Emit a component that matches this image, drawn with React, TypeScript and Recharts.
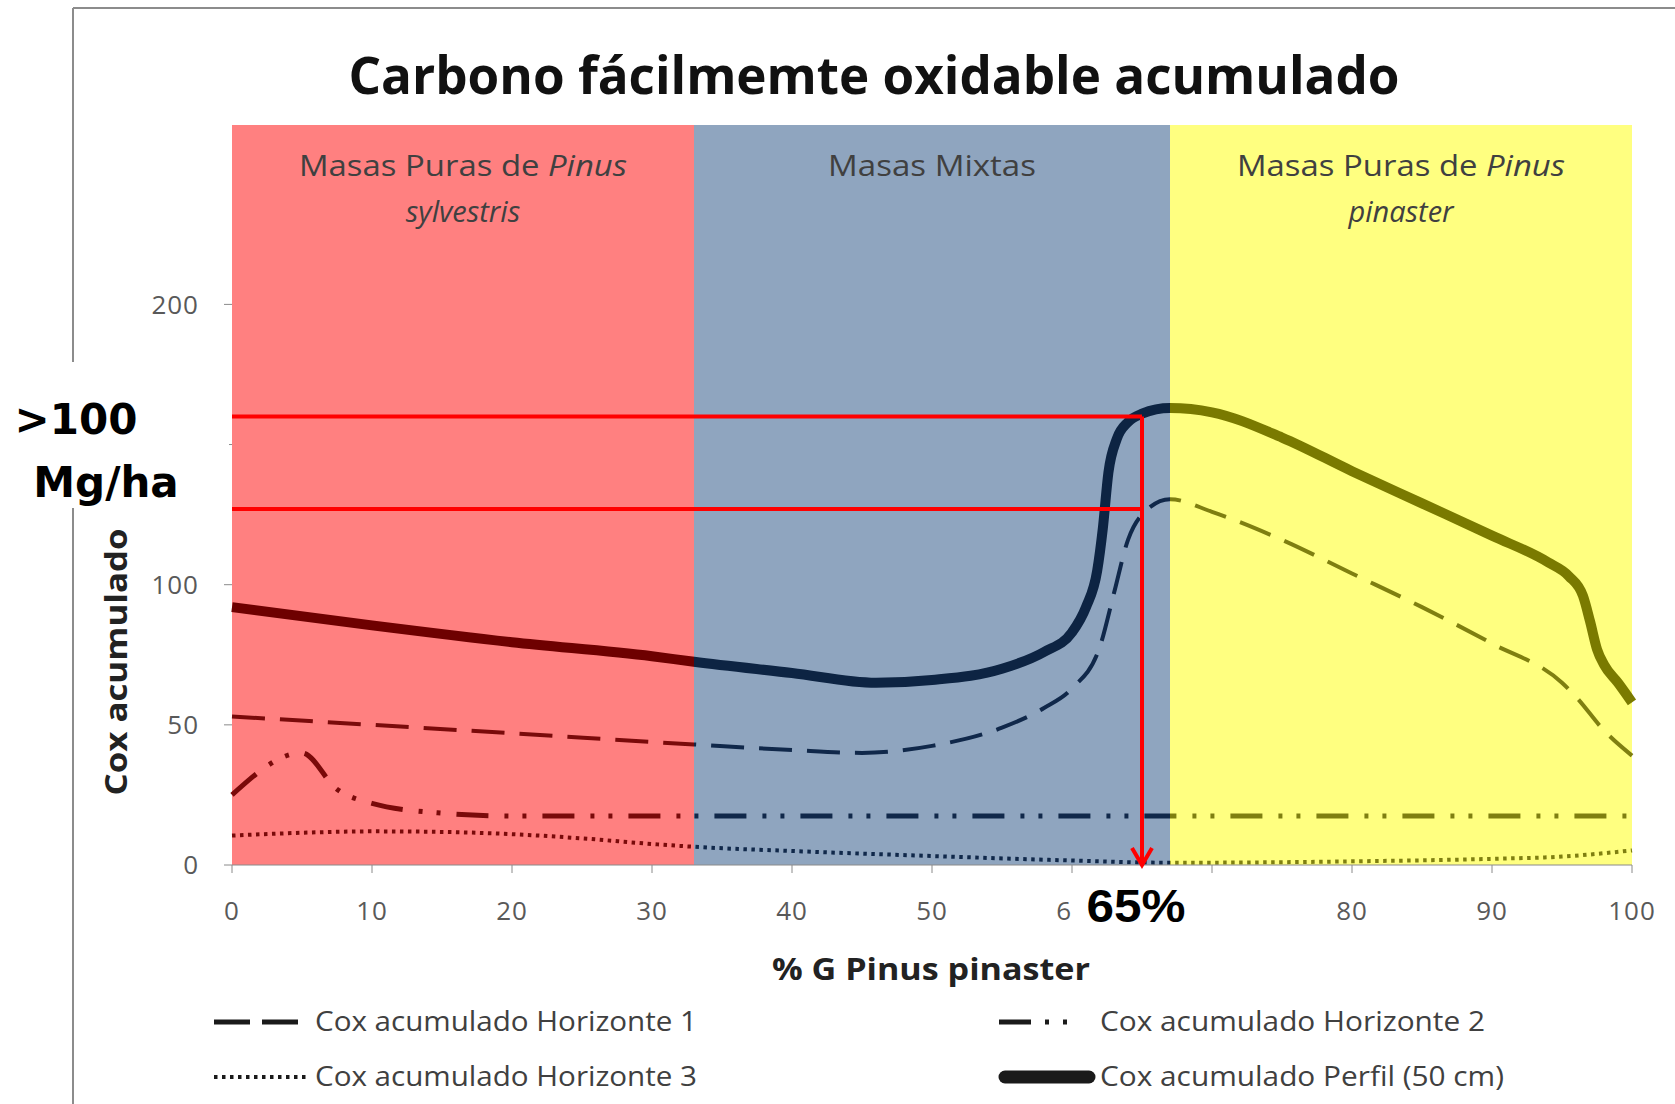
import React from 'react'
import { LineChart, Line, XAxis, YAxis, ReferenceArea, ReferenceLine, ReferenceDot } from 'recharts'

const W = 1675
const H = 1104

const xTicks = [0, 10, 20, 30, 40, 50, 60, 70, 80, 90, 100]
const yTicks = [0, 50, 100, 150, 200]

// % G Pinus pinaster -> Cox acumulado
const perfilX = [0, 10, 20, 30, 33, 40, 46, 50, 55, 58, 60, 61, 61.8, 62.2, 62.6, 63.2, 64, 65, 67, 70, 75, 80, 85, 90, 94, 95.5, 96.5, 97, 97.5, 98, 99, 100]
const perfilY = [92, 85.5, 79.5, 74.5, 72.5, 68.5, 65, 66, 70, 76, 83, 92, 105, 120, 140, 152, 158, 161, 163, 161.5, 152.5, 140.5, 129, 117.5, 108, 103, 96, 87, 77, 71.5, 65, 58]

const h1X = [0, 10, 20, 33, 40, 45, 50, 55, 58, 60, 62, 63, 64, 65, 67, 70, 75, 80, 85, 90, 95, 96, 98, 100]
const h1Y = [53, 50, 47, 43, 41, 40, 42.5, 49, 56, 63, 78, 97, 116, 125, 130.5, 126, 116, 104, 92, 79, 65, 60, 48, 39]

const h2X = [0, 5, 7.5, 10, 15, 20, 33, 50, 67, 80, 100]
const h2Y = [25, 40, 27, 22, 18.5, 17.5, 17.5, 17.5, 17.5, 17.5, 17.5]

const h3X = [0, 5, 10, 15, 20, 25, 30, 33, 40, 50, 60, 67, 75, 80, 90, 95, 100]
const h3Y = [10.5, 11.5, 12, 11.8, 11, 9.5, 7.5, 6.5, 5, 3.2, 1.6, 0.8, 1, 1.3, 2.2, 3, 5.2]

const bandFrom = [0, 33, 67]
const bandTo = [33, 67, 100]
const bandLine1 = ['Masas Puras de ', 'Masas Mixtas', 'Masas Puras de ']
const bandLine1Italic = ['Pinus', '', 'Pinus']
const bandLine2 = ['sylvestris', '', 'pinaster']
const bandColors = ['#ff8080', '#8fa5bf', '#ffff80']

const markLevels = [160, 127]
const markX = 65

const legendNames = ['Cox acumulado Horizonte 1', 'Cox acumulado Horizonte 2', 'Cox acumulado Horizonte 3', 'Cox acumulado Perfil (50 cm)']

const pts = (xs: number[], ys: number[]) => xs.map((x, i) => ({ x, y: ys[i] }))
const perfilData = pts(perfilX, perfilY)
const h1Data = pts(h1X, h1Y)
const h2Data = pts(h2X, h2Y)
const h3Data = pts(h3X, h3Y)

const txt = '#404040'

function BandLabel(props: any) {
  const { viewBox, idx } = props
  if (!viewBox) return null
  const cx = viewBox.x + viewBox.width / 2
  const top = viewBox.y
  const w1 = idx === 1 ? 208 : 328
  return (
    <g fontFamily='"Open Sans", sans-serif' fontSize={29} fill={txt}>
      <text x={cx} y={top + 51} textAnchor="middle" textLength={w1} lengthAdjust="spacingAndGlyphs">
        {bandLine1[idx]}
        {bandLine1Italic[idx] && <tspan fontStyle="italic">{bandLine1Italic[idx]}</tspan>}
      </text>
      {bandLine2[idx] && (
        <text x={cx} y={top + 97} textAnchor="middle" fontStyle="italic">
          {bandLine2[idx]}
        </text>
      )}
    </g>
  )
}

function ArrowHead(p: any) {
  const { cx, cy } = p
  return <path d={`M${cx - 10},${cy - 17} L${cx},${cy} L${cx + 10},${cy - 17}`} fill="none" stroke="#ff0000" strokeWidth={4} />
}

function Grad({ id, c1, c2, c3 }: { id: string; c1: string; c2: string; c3: string }) {
  return (
    <linearGradient id={id} x1="0" y1="0" x2="1" y2="0">
      <stop offset="0" stopColor={c1} />
      <stop offset="0.33" stopColor={c1} />
      <stop offset="0.33" stopColor={c2} />
      <stop offset="0.67" stopColor={c2} />
      <stop offset="0.67" stopColor={c3} />
      <stop offset="1" stopColor={c3} />
    </linearGradient>
  )
}

export default function App() {
  const tickStyle = { fontSize: 26, fill: '#595959', fontFamily: '"Open Sans", sans-serif', letterSpacing: 1 }
  return (
    <div style={{ position: 'absolute', left: 0, top: 0, width: W, height: H, background: '#fff' }}>
      <LineChart width={W} height={H} margin={{ top: 125, right: 43, bottom: 159, left: 152 }}>
        <defs>
          <Grad id="gPerfil" c1="#6e0000" c2="#0d2443" c3="#7a7a00" />
          <Grad id="gH" c1="#7a0a0a" c2="#10284a" c3="#7f7f10" />
        </defs>
        <XAxis
          type="number"
          dataKey="x"
          domain={[0, 100]}
          ticks={xTicks}
          stroke="#8a8a8a"
          tickSize={8}
          tickMargin={29}
          tick={tickStyle}
          height={80}
        />
        <YAxis
          type="number"
          domain={[0, 264]}
          ticks={yTicks}
          axisLine={false}
          tickLine={{ stroke: '#8a8a8a' }}
          tickSize={8}
          tickMargin={25}
          tick={tickStyle}
          width={80}
        />
        {bandFrom.map((b, i) => (
          <ReferenceArea
            key={i}
            x1={b}
            x2={bandTo[i]}
            y1={0}
            y2={264}
            fill={bandColors[i]}
            fillOpacity={1}
            stroke="none"
            label={<BandLabel idx={i} />}
          />
        ))}
        <Line data={h3Data} dataKey="y" type="monotone" stroke="url(#gH)" strokeWidth={4} strokeDasharray="3.5 4.5" dot={false} activeDot={false} isAnimationActive={false} />
        <Line data={h2Data} dataKey="y" type="monotone" stroke="url(#gH)" strokeWidth={5} strokeDasharray="32 16 4 14 4 16" dot={false} activeDot={false} isAnimationActive={false} />
        <Line data={h1Data} dataKey="y" type="monotone" stroke="url(#gH)" strokeWidth={4} strokeDasharray="33 15" dot={false} activeDot={false} isAnimationActive={false} />
        <Line data={perfilData} dataKey="y" type="monotone" stroke="url(#gPerfil)" strokeWidth={10} dot={false} activeDot={false} isAnimationActive={false} />
        {markLevels.map((v) => (
          <ReferenceLine key={v} segment={[{ x: 0, y: v }, { x: markX, y: v }]} stroke="#ff0000" strokeWidth={4} />
        ))}
        <ReferenceLine segment={[{ x: markX, y: markLevels[0] }, { x: markX, y: 0 }]} stroke="#ff0000" strokeWidth={4} />
        <ReferenceDot x={markX} y={0} shape={ArrowHead} />
      </LineChart>
      <svg width={W} height={H} style={{ position: 'absolute', left: 0, top: 0, pointerEvents: 'none' }}>
        <line x1={73} y1={8} x2={W} y2={8} stroke="#8c8c8c" strokeWidth={2} />
        <line x1={73} y1={8} x2={73} y2={H} stroke="#8c8c8c" strokeWidth={2} />
        <text x={874} y={94} textAnchor="middle" fontFamily='"Open Sans", sans-serif' fontWeight="bold" fontSize={52} fill="#111" textLength={1051} lengthAdjust="spacingAndGlyphs">
          Carbono fácilmemte oxidable acumulado
        </text>
        <text transform="translate(127,662) rotate(-90)" textAnchor="middle" fontFamily='"Open Sans", sans-serif' fontWeight="bold" fontSize={30} fill="#222" textLength={267} lengthAdjust="spacingAndGlyphs">
          Cox acumulado
        </text>
        <text x={931} y={980} textAnchor="middle" fontFamily='"Open Sans", sans-serif' fontWeight="bold" fontSize={30} fill="#222" textLength={318} lengthAdjust="spacingAndGlyphs">
          % G Pinus pinaster
        </text>
        {/* annotation boxes */}
        <rect x={0} y={362} width={229} height={146} fill="#fff" />
        <text x={76} y={434} textAnchor="middle" fontFamily='"DejaVu Sans", sans-serif' fontWeight="bold" fontSize={42} fill="#000">&gt;100</text>
        <text x={106} y={497} textAnchor="middle" fontFamily='"DejaVu Sans", sans-serif' fontWeight="bold" fontSize={42} fill="#000">Mg/ha</text>
        <rect x={1071} y={880} width={158} height={50} fill="#fff" />
        <text x={1136} y={922} textAnchor="middle" fontFamily='"Liberation Sans", sans-serif' fontWeight="bold" fontSize={46} fill="#000" textLength={99} lengthAdjust="spacingAndGlyphs">65%</text>
        {/* legend */}
        <g fill="none" stroke="#1a1a1a">
          <line x1={214} y1={1022} x2={310} y2={1022} strokeWidth={5} strokeDasharray="36 12" />
          <line x1={999} y1={1022} x2={1095} y2={1022} strokeWidth={5} strokeDasharray="32 14 4 14 4 30" />
          <line x1={214} y1={1077} x2={310} y2={1077} strokeWidth={4} strokeDasharray="3.5 4.5" />
          <line x1={1005} y1={1077} x2={1089} y2={1077} strokeWidth={13} strokeLinecap="round" />
        </g>
        <g fontFamily='"Open Sans", sans-serif' fontSize={27} fill={txt}>
          <text x={315} y={1031} textLength={382} lengthAdjust="spacingAndGlyphs">{legendNames[0]}</text>
          <text x={1100} y={1031} textLength={385} lengthAdjust="spacingAndGlyphs">{legendNames[1]}</text>
          <text x={315} y={1086} textLength={382} lengthAdjust="spacingAndGlyphs">{legendNames[2]}</text>
          <text x={1100} y={1086} textLength={404} lengthAdjust="spacingAndGlyphs">{legendNames[3]}</text>
        </g>
      </svg>
    </div>
  )
}
